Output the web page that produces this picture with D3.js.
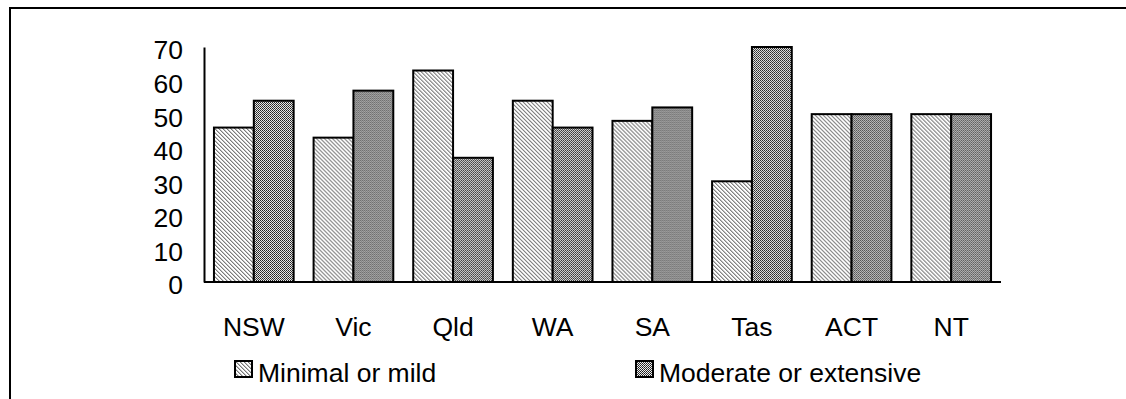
<!DOCTYPE html>
<html>
<head>
<meta charset="utf-8">
<script src="https://d3js.org/d3.v7.min.js"></script>
<style>
  html, body { margin: 0; background: #fff; overflow: hidden; }
  svg { display: block; }
  text { font-family: "Liberation Sans", Arial, sans-serif; fill: #000; }
</style>
</head>
<body>
<div id="chart"></div>
<script>
// states and the two series (percent)
var states = ["NSW", "Vic", "Qld", "WA", "SA", "Tas", "ACT", "NT"];
var minimal = [46, 43, 63, 54, 48, 30, 50, 50];
var moderate = [54, 57, 37, 46, 52, 70, 50, 50];
var seriesNames = ["Minimal or mild", "Moderate or extensive"];
var yTicks = [0, 10, 20, 30, 40, 50, 60, 70];

var w = 1126, h = 399;
var fontSize = 26.5;

var svg = d3.select("#chart")
  .append("svg")
  .attr("width", w)
  .attr("height", h);

var defs = svg.append("defs");

// light diagonal hatch
var p1 = defs.append("pattern")
  .attr("id", "hatch")
  .attr("patternUnits", "userSpaceOnUse")
  .attr("width", 4).attr("height", 4);
p1.append("rect").attr("width", 4).attr("height", 4).attr("fill", "#fff");
[0, 1, 2, 3].forEach(function (i) {
  p1.append("rect").attr("x", i).attr("y", i).attr("width", 1).attr("height", 1).attr("fill", "#777");
  p1.append("rect").attr("x", (i + 1) % 4).attr("y", i).attr("width", 1).attr("height", 1).attr("fill", "#c4c4c4");
});

// darker checker
var p2 = defs.append("pattern")
  .attr("id", "checker")
  .attr("patternUnits", "userSpaceOnUse")
  .attr("width", 2).attr("height", 2);
p2.append("rect").attr("width", 2).attr("height", 2).attr("fill", "#eee");
p2.append("rect").attr("x", 0).attr("y", 0).attr("width", 1).attr("height", 1).attr("fill", "#1a1a1a");
p2.append("rect").attr("x", 1).attr("y", 1).attr("width", 1).attr("height", 1).attr("fill", "#3a3a3a");

var fills = ["url(#hatch)", "url(#checker)"];

// frame: only top and left edges show in the picture
svg.append("path")
  .attr("d", "M10," + (h + 2) + "V8H" + (w + 2))
  .attr("fill", "none")
  .attr("stroke", "#000")
  .attr("stroke-width", 2);

var x0 = d3.scaleBand()
  .domain(states)
  .range([204, 1001])
  .paddingInner(0.2)
  .paddingOuter(0.1);

var x1 = d3.scaleBand()
  .domain([0, 1])
  .range([0, x0.bandwidth()]);

var y = d3.scaleLinear()
  .domain([0, 70])
  .range([282, 47]);

// bars
var groups = svg.selectAll(".state")
  .data(states)
  .enter()
  .append("g")
  .attr("class", "state")
  .attr("transform", function (d) { return "translate(" + x0(d) + ",0)"; });

groups.selectAll("rect")
  .data(function (d, i) { return [minimal[i], moderate[i]]; })
  .enter()
  .append("rect")
  .attr("x", function (d, j) { return x1(j); })
  .attr("y", function (d) { return y(d); })
  .attr("width", x1.bandwidth())
  .attr("height", function (d) { return y(0) - y(d); })
  .attr("fill", function (d, j) { return fills[j]; })
  .attr("stroke", "#000")
  .attr("stroke-width", 2);

// y axis
var yAxis = svg.append("g")
  .attr("transform", "translate(204,0)")
  .call(d3.axisLeft(y).tickValues(yTicks).tickSize(0).tickPadding(21));
yAxis.select(".domain").attr("stroke", "#000").attr("stroke-width", 2);
yAxis.selectAll("text")
  .attr("font-size", fontSize)
  .attr("font-family", "Liberation Sans, Arial, sans-serif")
  .attr("dy", "0.45em");

// baseline
svg.append("line")
  .attr("x1", 204).attr("x2", 1001)
  .attr("y1", y(0)).attr("y2", y(0))
  .attr("stroke", "#000")
  .attr("stroke-width", 2);

// x labels
var xAxis = svg.append("g")
  .attr("transform", "translate(0," + y(0) + ")")
  .call(d3.axisBottom(x0).tickSize(0).tickPadding(35));
xAxis.select(".domain").remove();
xAxis.selectAll("text")
  .attr("font-size", fontSize)
  .attr("font-family", "Liberation Sans, Arial, sans-serif");

// legend
var legendX = [235, 636];
var legend = svg.selectAll(".legend")
  .data(seriesNames)
  .enter()
  .append("g")
  .attr("class", "legend")
  .attr("transform", function (d, i) { return "translate(" + legendX[i] + ",361)"; });

legend.append("rect")
  .attr("width", 17).attr("height", 16)
  .attr("fill", function (d, i) { return fills[i]; })
  .attr("stroke", "#000")
  .attr("stroke-width", 2);

legend.append("text")
  .attr("x", 23)
  .attr("y", 21)
  .attr("font-size", fontSize)
  .text(function (d) { return d; });
</script>
</body>
</html>
